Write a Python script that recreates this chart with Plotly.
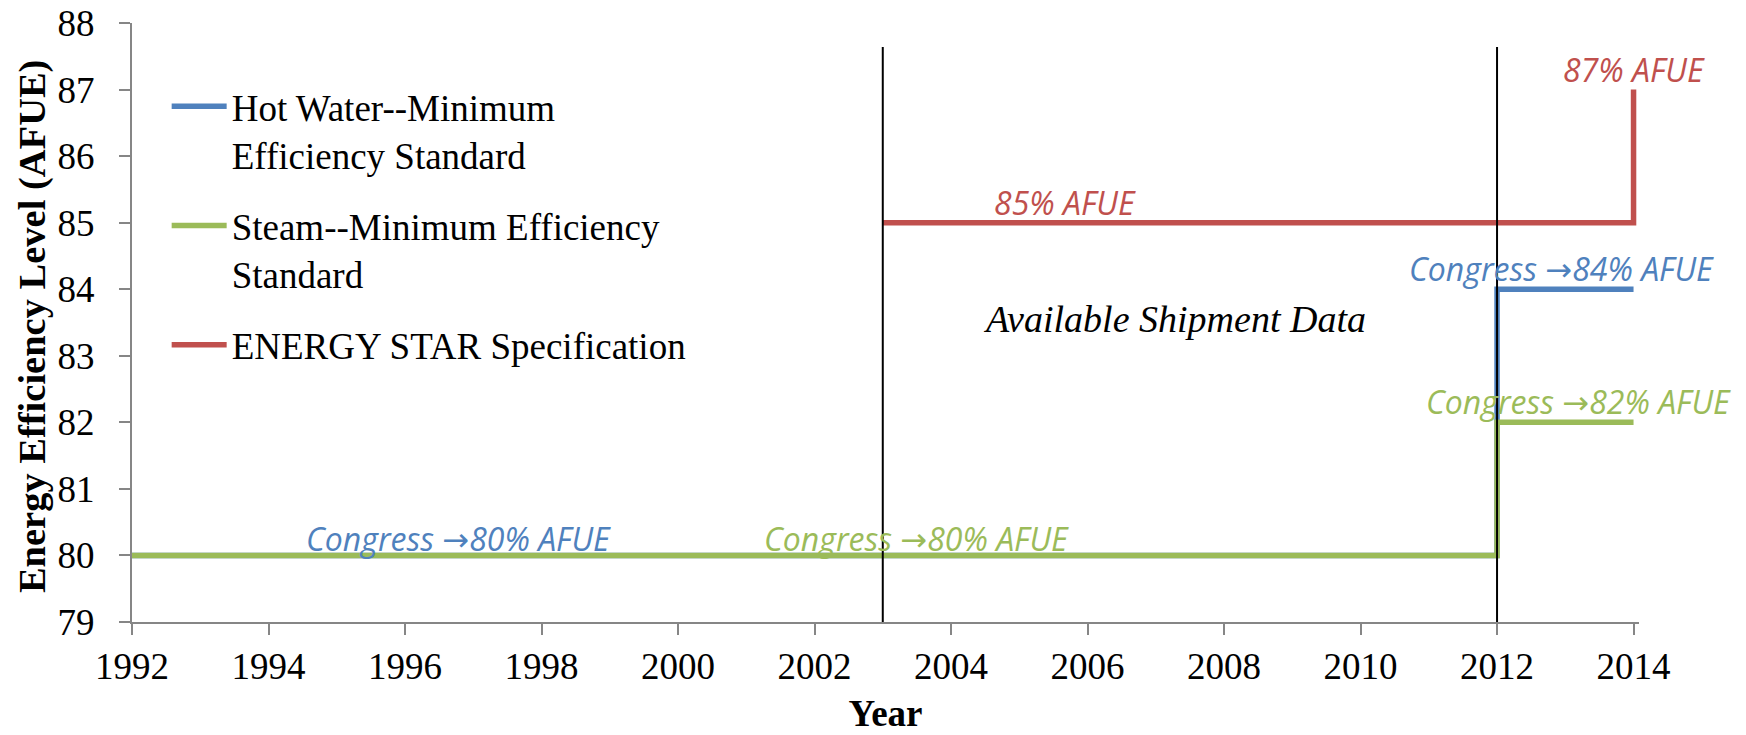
import plotly.graph_objects as go

# Standards timeline (year, AFUE %)
hot_water_years = [1992, 2012, 2012, 2014]
hot_water_afue = [80, 80, 84, 84]
steam_years = [1992, 2012, 2012, 2014]
steam_afue = [80, 80, 82, 82]
energy_star_years = [2003, 2014, 2014]
energy_star_afue = [85, 85, 87]

series_names = [
    "Hot Water--Minimum<br>Efficiency Standard",
    "Steam--Minimum Efficiency<br>Standard",
    "ENERGY STAR Specification",
]
series_colors = ["#4F81BD", "#9BBB59", "#C0504D"]

# Shipment-data window boundaries
window_years = [2003, 2012]
window_top, window_bottom = 87.64, 78.78

ARROW = '<span style="font-family:DejaVu Sans">\u2192</span>'

# Text labels: (text, year, level, colour)
labels = [
    ("Congress " + ARROW + "80% AFUE", 1996.78, 80, "#4F81BD"),
    ("Congress " + ARROW + "80% AFUE", 2003.5, 80, "#9BBB59"),
    ("Congress " + ARROW + "84% AFUE", 2012.94, 84, "#4F81BD"),
    ("Congress " + ARROW + "82% AFUE", 2013.2, 82, "#9BBB59"),
    ("85% AFUE", 2005.67, 85, "#C0504D"),
    ("87% AFUE", 2014.0, 87, "#C0504D"),
]
# pixel nudge of each label above its step
label_yshift = [-7, -7, -3, -3, -3, -3]
window_label = ("Available Shipment Data", 2007.28, 83.55)

fig = go.Figure()
for xs, ys, name, color in [
    (hot_water_years, hot_water_afue, series_names[0], series_colors[0]),
    (steam_years, steam_afue, series_names[1], series_colors[1]),
    (energy_star_years, energy_star_afue, series_names[2], series_colors[2]),
]:
    fig.add_trace(go.Scatter(
        x=xs, y=ys, name=name, mode="lines",
        line=dict(color=color, width=5.5), cliponaxis=False,
        legendgroup=name,
    ))

for yr in window_years:
    fig.add_shape(type="line", x0=yr, x1=yr, y0=window_bottom, y1=window_top,
                  xref="x", yref="y", line=dict(color="black", width=2),
                  layer="above")

for (text, x, y, color), ys in zip(labels, label_yshift):
    fig.add_annotation(
        x=x, y=y, text=text, showarrow=False, xanchor="center",
        yanchor="bottom", yshift=ys,
        font=dict(family="Open Sans", size=32, color=color, style="italic"),
    )

fig.add_annotation(
    x=window_label[1], y=window_label[2], text=window_label[0],
    showarrow=False, xanchor="center", yanchor="middle",
    font=dict(family="Liberation Serif", size=38, color="black",
              style="italic"),
)

# y-axis title, placed beside the tick labels
fig.add_annotation(
    text="<b>Energy Efficiency Level (AFUE)</b>", textangle=-90,
    xref="paper", yref="paper", x=0, y=0.494, xshift=-100,
    xanchor="center", yanchor="middle", showarrow=False,
    font=dict(family="Liberation Serif", size=38.5, color="black"),
)

axis_common = dict(
    showline=True, linecolor="#868686", linewidth=2,
    ticks="outside", ticklen=11, tickcolor="#868686", tickwidth=2,
    showgrid=False, zeroline=False, automargin=False,
    tickfont=dict(family="Liberation Serif", size=37, color="black"),
)

# x range runs a hair past 2014 so the 2014 step is not clipped in half
fig.update_layout(
    width=1746, height=735,
    margin=dict(l=132, r=107, t=23, b=113),
    plot_bgcolor="white", paper_bgcolor="white",
    xaxis=dict(range=[1992, 2014.08], tickvals=list(range(1992, 2015, 2)),
               title=dict(text="<b>Year</b>", standoff=14,
                          font=dict(family="Liberation Serif", size=37,
                                    color="black")),
               **axis_common),
    yaxis=dict(range=[79, 88], dtick=1, ticklabelstandoff=17,
               **axis_common),
    legend=dict(
        x=0.023, y=0.912, xanchor="left", yanchor="top",
        font=dict(family="Liberation Serif", size=37, color="black"),
        valign="top", itemwidth=55, tracegroupgap=20,
        bgcolor="rgba(0,0,0,0)",
    ),
    showlegend=True,
)

fig.write_html("out.html")
